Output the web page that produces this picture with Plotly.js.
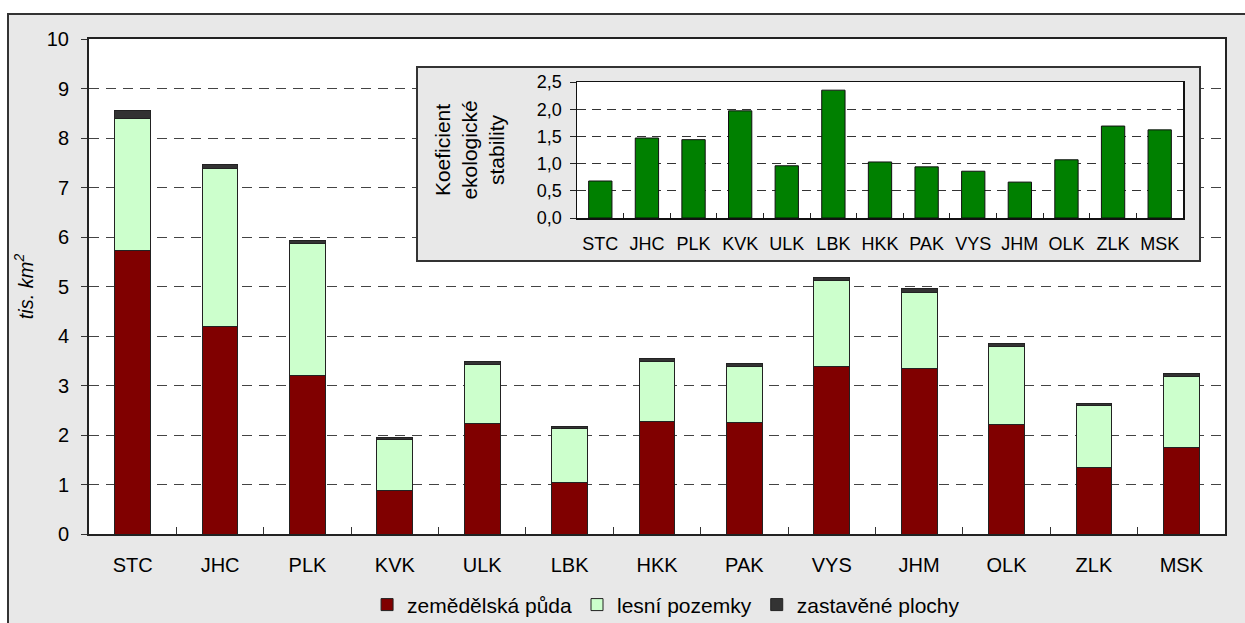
<!DOCTYPE html>
<html>
<head>
<meta charset="utf-8">
<script src="https://cdn.plot.ly/plotly-3.0.1.min.js"></script>
<style>
  html, body { margin: 0; padding: 0; background: #ffffff; overflow: hidden; }
  #frame { position: absolute; left: 7px; top: 13px; width: 1260px; height: 640px;
           background: #e8e8e8; border-left: 2px solid #333; border-top: 2px solid #333; }
  #main { position: absolute; left: 0; top: 0; width: 1245px; height: 623px; }
  #inset { position: absolute; left: 416px; top: 66px; width: 785px; height: 196px;
           box-sizing: border-box; border: 2px solid #333; background: #e8e8e8; }
</style>
</head>
<body>
<div id="frame"></div>
<div id="main"></div>
<div id="inset"></div>
<script>
const categories = ['STC','JHC','PLK','KVK','ULK','LBK','HKK','PAK','VYS','JHM','OLK','ZLK','MSK'];
const zemedelskaPuda = [5.72, 4.20, 3.21, 0.87, 2.24, 1.05, 2.27, 2.25, 3.38, 3.35, 2.22, 1.35, 1.75];
const lesniPozemky   = [2.68, 3.18, 2.65, 1.04, 1.19, 1.09, 1.21, 1.13, 1.74, 1.53, 1.56, 1.25, 1.44];
const zastavenePlochy = [0.15, 0.09, 0.07, 0.04, 0.05, 0.03, 0.07, 0.07, 0.06, 0.08, 0.06, 0.04, 0.05];
const koeficientStability = [0.68, 1.47, 1.44, 1.97, 0.96, 2.35, 1.03, 0.94, 0.86, 0.66, 1.07, 1.69, 1.62];
const seriesNames = ['zemědělská půda', 'lesní pozemky', 'zastavěné plochy'];
const yTickVals = [0,1,2,3,4,5,6,7,8,9,10];

const FONT = 'Arial, "Liberation Sans", sans-serif';

const mainTraces = [
  {type:'bar', name: seriesNames[0], x: categories, y: zemedelskaPuda,
   marker:{color:'#800000', line:{color:'#222', width:1}}},
  {type:'bar', name: seriesNames[1], x: categories, y: lesniPozemky,
   marker:{color:'#ccffcc', line:{color:'#222', width:1}}},
  {type:'bar', name: seriesNames[2], x: categories, y: zastavenePlochy,
   marker:{color:'#333333', line:{color:'#222', width:1}}}
];

const mainLayout = {
  width: 1245, height: 623,
  paper_bgcolor: 'rgba(0,0,0,0)', plot_bgcolor: '#ffffff',
  margin: {l: 89, r: 20, t: 39, b: 89, pad: 0, autoexpand: false},
  barmode: 'stack', bargap: 0.59,
  font: {family: FONT, size: 20, color: '#000'},
  showlegend: true,
  legend: {orientation: 'h', x: 0.535, xanchor: 'center', xref: 'container',
           y: 0.029, yanchor: 'middle', yref: 'container',
           bgcolor: 'rgba(0,0,0,0)', font: {family: FONT, size: 21, color: '#000'},
           traceorder: 'normal', itemwidth: 30},
  xaxis: {type: 'category', tickson: 'boundaries', ticks: 'inside', ticklen: 7,
          tickcolor: '#333', showline: true, linecolor: '#222', linewidth: 2, mirror: true,
          showgrid: false, ticklabelstandoff: 12, tickangle: 0, tickfont: {size: 20}},
  yaxis: {range: [0, 10], tickvals: yTickVals, ticks: 'outside', ticklen: 6, tickcolor: '#333',
          showline: true, linecolor: '#222', linewidth: 2, mirror: true,
          showgrid: true, gridcolor: '#444', gridwidth: 1, griddash: '10px,7px',
          zeroline: false, ticklabelstandoff: 8, tickfont: {size: 20},
          title: {text: '<i>tis. km<sup>2</sup></i>', font: {size: 20}, standoff: 8}}
};

Plotly.newPlot('main', mainTraces, mainLayout, {staticPlot: true});

const insetTraces = [
  {type:'bar', x: categories, y: koeficientStability, showlegend: false,
   marker:{color:'#008000', line:{color:'#111', width:1}}}
];

const insetLayout = {
  width: 781, height: 192,
  paper_bgcolor: '#e8e8e8', plot_bgcolor: '#ffffff',
  margin: {l: 159, r: 16, t: 14, b: 42, pad: 0, autoexpand: false},
  bargap: 0.5, separators: ', ',
  font: {family: FONT, size: 18, color: '#000'},
  xaxis: {type: 'category', tickson: 'boundaries', ticks: 'inside', ticklen: 5,
          tickcolor: '#222', showline: true, linecolor: '#111', linewidth: 1.5, mirror: true,
          showgrid: false, ticklabelstandoff: 9, tickangle: 0, tickfont: {size: 18}},
  yaxis: {range: [0, 2.5], dtick: 0.5, tickformat: '.1f', ticks: 'outside', ticklen: 6,
          tickcolor: '#222', showline: true, linecolor: '#111', linewidth: 1.5, mirror: true,
          showgrid: true, gridcolor: '#333', gridwidth: 1, griddash: '9px,6px',
          zeroline: false, ticklabelstandoff: 4, tickfont: {size: 18},
          title: {text: 'Koeficient<br>ekologické<br>stability', font: {size: 21}, standoff: 26}}
};

Plotly.newPlot('inset', insetTraces, insetLayout, {staticPlot: true});
</script>
</body>
</html>
